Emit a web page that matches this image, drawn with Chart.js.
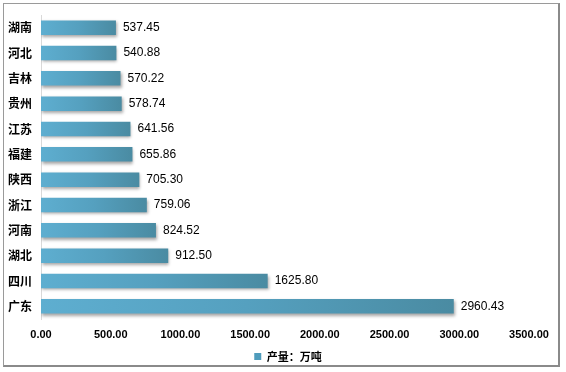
<!DOCTYPE html>
<html>
<head>
<meta charset="utf-8">
<script src="https://cdn.jsdelivr.net/npm/chart.js@4/dist/chart.umd.min.js"></script>
<style>
  html, body { margin: 0; padding: 0; background: #fff; }
  #wrap { position: relative; width: 566px; height: 372px; }
  #frame {
    position: absolute; left: 3px; top: 3px; width: 554px; height: 361px;
    border: 1px solid #9a9a9a; border-right: 2px solid #8a8a8a; border-bottom: 2px solid #8a8a8a;
    pointer-events: none;
  }
  canvas { position: absolute; left: 0; top: 0; }
</style>
</head>
<body>
<div id="wrap">
  <canvas id="myChart" width="566" height="372"></canvas>
  <div id="frame"></div>
</div>
<script>
// 省份与产量（万吨）
const provinces = ["湖南", "河北", "吉林", "贵州", "江苏", "福建", "陕西", "浙江", "河南", "湖北", "四川", "广东"];
const output = [537.45, 540.88, 570.22, 578.74, 641.56, 655.86, 705.30, 759.06, 824.52, 912.50, 1625.80, 2960.43];
const seriesName = "产量：万吨";

// 柱子阴影
const barShadow = {
  id: "barShadow",
  beforeDatasetsDraw(chart) {
    const ctx = chart.ctx;
    ctx.save();
    ctx.shadowColor = "rgba(0,0,0,0.35)";
    ctx.shadowBlur = 3;
    ctx.shadowOffsetX = 1;
    ctx.shadowOffsetY = 2;
  },
  afterDatasetsDraw(chart) {
    chart.ctx.restore();
  },
};

// 数值标签
const valueLabels = {
  id: "valueLabels",
  afterDatasetsDraw(chart) {
    const ctx = chart.ctx;
    const meta = chart.getDatasetMeta(0);
    ctx.save();
    ctx.font = "12px 'Liberation Sans', 'DejaVu Sans', sans-serif";
    ctx.fillStyle = "#000";
    ctx.textAlign = "left";
    ctx.textBaseline = "middle";
    meta.data.forEach((bar, i) => {
      ctx.fillText(output[i].toFixed(2), bar.x + 7, bar.y);
    });
    ctx.restore();
  },
};

// 图例居中到整个画布
const legendShift = {
  id: "legendShift",
  afterLayout(chart) {
    const lg = chart.legend;
    if (!lg) return;
    const dx = (chart.width / 2 + 5) - (lg.left + lg.right) / 2;
    lg.left += dx;
    lg.right += dx;
  },
};

const config = {
  type: "bar",
  data: {
    labels: provinces,
    datasets: [
      {
        label: seriesName,
        data: output,
        backgroundColor: function (context) {
          const chart = context.chart;
          if (!chart.chartArea || context.raw === undefined) return "#5aaacd";
          const x0 = chart.scales.x.getPixelForValue(0);
          const x1 = chart.scales.x.getPixelForValue(context.raw);
          const g = chart.ctx.createLinearGradient(x0, 0, x1, 0);
          g.addColorStop(0, "#5eaed0");
          g.addColorStop(0.5, "#55a0bf");
          g.addColorStop(1, "#4a8ba2");
          return g;
        },
        borderWidth: 0,
        barPercentage: 0.57,
        categoryPercentage: 1,
      },
    ],
  },
  options: {
    indexAxis: "y",
    responsive: false,
    animation: false,
    layout: { padding: { left: 6, right: 37, top: 7, bottom: 0 } },
    plugins: {
      tooltip: { enabled: false },
      legend: {
        display: true,
        position: "bottom",
        labels: {
          font: { size: 11, weight: "bold", family: "'Noto Sans CJK SC', sans-serif" },
          color: "#000",
          boxWidth: 7,
          boxHeight: 7,
          padding: 8,
          generateLabels: function () {
            return [{ text: seriesName, fillStyle: "#4f9cbc", strokeStyle: "#4f9cbc", lineWidth: 0, datasetIndex: 0 }];
          },
        },
      },
    },
    scales: {
      x: {
        min: 0,
        max: 3500,
        grid: { display: false, drawTicks: false },
        border: { display: false },
        ticks: {
          stepSize: 500,
          color: "#000",
          padding: 9,
          font: { size: 11, weight: "bold", family: "'Liberation Sans', sans-serif" },
          callback: function (value) {
            return value.toFixed(2);
          },
        },
        afterFit: function (scale) {
          scale.height = 24;
        },
      },
      y: {
        grid: { color: "transparent", drawTicks: false },
        border: { display: true, color: "#d9d9d9", width: 1 },
        ticks: {
          color: "#000",
          padding: 9,
          font: { size: 12, weight: "bold", lineHeight: 1, family: "'Noto Sans CJK SC', sans-serif" },
        },
        afterFit: function (scale) {
          scale.width = 35;
        },
      },
    },
  },
  plugins: [barShadow, valueLabels, legendShift],
};

window.onload = function () {
  const ctx = document.getElementById("myChart").getContext("2d");
  const myChart = new Chart(ctx, config);
};
</script>
</body>
</html>
